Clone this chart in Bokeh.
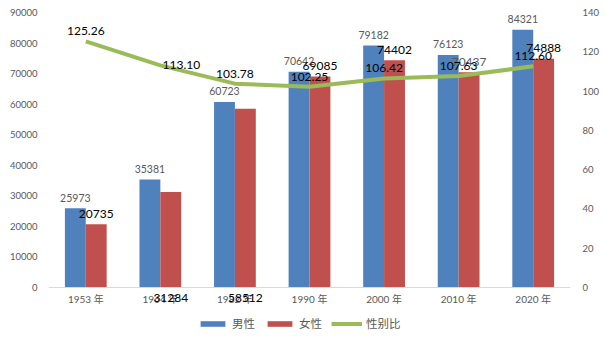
from bokeh.plotting import figure
from bokeh.models import (ColumnDataSource, FactorRange, Range1d, LinearAxis,
                          Legend, LegendItem, FixedTicker, Span)
from bokeh.transform import dodge
from bokeh.embed import file_html
from bokeh.resources import INLINE
from bokeh.core.properties import value

# ---- data ----
years = ["1953 年", "1964 年", "1982 年", "1990 年", "2000 年", "2010 年", "2020 年"]
male = [25973, 35381, 60723, 70642, 79182, 76123, 84321]
female = [20735, 31284, 58512, 69085, 74402, 70437, 74888]
sex_ratio = [125.26, 113.10, 103.78, 102.25, 106.42, 107.63, 112.60]
left_ticks = [0, 10000, 20000, 30000, 40000, 50000, 60000, 70000, 80000, 90000]
right_ticks = [0, 20, 40, 60, 80, 100, 120, 140]

# ---- label styling (screen offsets, not data) ----
female_label_at_base = [False, True, True, False, False, False, False]
female_label_color = ["#000000"] * 5 + ["#595959"] + ["#000000"]
ratio_dx = [0, 21, 0, 0, 0, 0, 0]
ratio_dy = [-10, 0, -10, -10, -10, -10, -10]

BLUE = "#4F81BD"
RED = "#C0504D"
GREEN = "#9BBB59"
GREY = "#595959"
FONT = "Lato, 'Noto Sans CJK SC'"

# layout: value axis spans 275 px of a 328 px tall frame (rest holds labels + legend)
PX_AXIS = 275.0
PX_FRAME = 328.0
LMAX, RMAX = left_ticks[-1], right_ticks[-1]
lmin = LMAX - LMAX * PX_FRAME / PX_AXIS
rmin = RMAX - RMAX * PX_FRAME / PX_AXIS

src = ColumnDataSource(dict(
    years=years, male=male, female=female, ratio=sex_ratio,
    zero=[0] * len(years),
    male_txt=[str(v) for v in male],
    female_txt=[str(v) for v in female],
    ratio_txt=["%.2f" % v for v in sex_ratio],
    female_y=[0 if b else v for b, v in zip(female_label_at_base, female)],
    female_off=[10 if b else -10.5 for b in female_label_at_base],
    female_col=female_label_color,
    ratio_dx=ratio_dx, ratio_dy=ratio_dy,
))

p = figure(x_range=FactorRange(*years, range_padding=0), y_range=Range1d(lmin, LMAX),
           width=605, height=340, output_backend="svg", toolbar_location=None,
           min_border_left=48, min_border_right=35, min_border_top=12,
           min_border_bottom=0)
p.extra_y_ranges = {"ratio": Range1d(rmin, RMAX)}

p.outline_line_color = None
p.xgrid.grid_line_color = None
p.ygrid.grid_line_color = None
p.background_fill_color = "white"
p.border_fill_color = "white"
p.xaxis.visible = False

# category axis line
p.add_layout(Span(location=0, dimension="width", line_color="#D9D9D9", line_width=1))

# bars
rb = p.vbar(x=dodge("years", -0.14, range=p.x_range), top="male", width=0.28,
            source=src, fill_color=BLUE, line_color=None)
rr = p.vbar(x=dodge("years", 0.14, range=p.x_range), top="female", width=0.28,
            source=src, fill_color=RED, line_color=None)
rl = p.line(x="years", y="ratio", source=src, y_range_name="ratio",
            line_color=GREEN, line_width=4)

# category labels
p.text(x="years", y="zero", text="years", source=src, y_offset=11,
       text_align="center", text_baseline="middle",
       text_font=value(FONT), text_font_size="10px", text_color=GREY)

# bar labels
p.text(x=dodge("years", -0.14, range=p.x_range), y="male", text="male_txt",
       source=src, y_offset=-10.5, text_align="center", text_baseline="middle",
       text_font=value("Lato"), text_font_size="10.5px", text_color=GREY)
p.text(x=dodge("years", 0.14, range=p.x_range), y="female_y", text="female_txt",
       source=src, y_offset="female_off", text_align="center", text_baseline="middle",
       text_font=value("Lato"), text_font_size="12px", text_color="female_col")
p.text(x="years", y="ratio", text="ratio_txt", source=src, y_range_name="ratio",
       x_offset="ratio_dx", y_offset="ratio_dy", text_align="center",
       text_baseline="middle", text_font=value("Lato"), text_font_size="12px",
       text_color="#000000")

# axes
yl = p.yaxis[0]
yl.ticker = FixedTicker(ticks=left_ticks)
yl.axis_line_color = None
yl.major_tick_line_color = None
yl.minor_tick_line_color = None
yl.major_label_text_font = FONT
yl.major_label_text_font_size = "9.5px"
yl.major_label_text_color = GREY
yl.major_label_standoff = 5

yr = LinearAxis(y_range_name="ratio", ticker=FixedTicker(ticks=right_ticks))
yr.axis_line_color = None
yr.major_tick_line_color = None
yr.minor_tick_line_color = None
yr.major_label_text_font = FONT
yr.major_label_text_font_size = "9.5px"
yr.major_label_text_color = GREY
yr.major_label_standoff = 6
p.add_layout(yr, "right")

legend = Legend(items=[LegendItem(label="男性", renderers=[rb]),
                       LegendItem(label="女性", renderers=[rr]),
                       LegendItem(label="性别比", renderers=[rl])],
                orientation="horizontal", location=(149, 9),
                glyph_width=31, glyph_height=7, spacing=9, label_standoff=4,
                label_text_font=FONT, label_text_font_size="11.5px",
                label_text_color=GREY, border_line_color=None,
                background_fill_alpha=0, padding=4, margin=0)
p.add_layout(legend, "center")

open("out.html", "w").write(file_html(p, INLINE))
